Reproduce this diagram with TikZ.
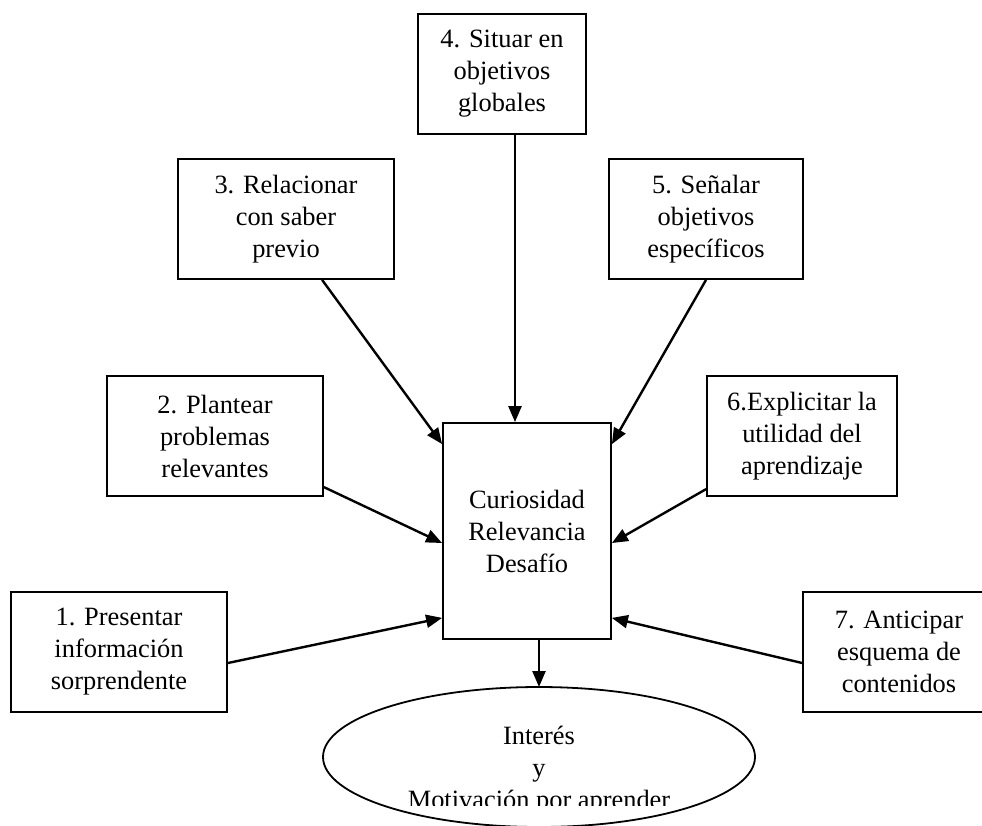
\documentclass[tikz,border=0pt]{standalone}
\usepackage{fontspec}
\setmainfont{Liberation Serif}
\usetikzlibrary{arrows.meta,calc}
\begin{document}
\begin{tikzpicture}[x=1pt,y=-1pt,
  txt/.style={font=\fontsize{26.4}{32}\selectfont, align=center},
  stepbox/.style={txt, draw, line width=1.8pt, inner sep=0pt},
  link/.style={line width=2.4pt, -{Triangle[length=16pt,width=13pt]}}]
  \clip (0,0) rectangle (982,825);
  \fill[white] (0,0) rectangle (982,825);

  % strategy boxes
  \node[stepbox, minimum width=168, minimum height=120] (b4) at (502,74) {4. Situar en\\objetivos\\globales};
  \node[stepbox, minimum width=216, minimum height=120] (b3) at (286,219) {3. Relacionar\\con saber\\previo};
  \node[stepbox, minimum width=194, minimum height=120] (b5) at (706,219) {5. Señalar\\objetivos\\específicos};
  \node[stepbox, minimum width=216, minimum height=120] (b2) at (215,436) {2. Plantear\\problemas\\relevantes};
  \node[stepbox, minimum width=190, minimum height=120] (b6) at (802,436) {6.Explicitar la\\utilidad del\\aprendizaje};
  \node[stepbox, minimum width=216, minimum height=120] (b1) at (119,652) {1. Presentar\\información\\sorprendente};
  \node[stepbox, minimum width=192, minimum height=120] (b7) at (899,652) {7. Anticipar\\esquema de\\contenidos};

  % central box
  \node[stepbox, minimum width=168, minimum height=216] (c) at (527,531) {Curiosidad\\Relevancia\\Desafío};

  % outcome ellipse
  \draw[line width=1.8pt] (539,757) ellipse [x radius=216, y radius=70];
  \coordinate (goal) at (539,687);
  \begin{scope}
    \clip (330,700) rectangle (750,805);
    \node[txt] (goaltext) at (539,770) {Interés\\y\\Motivación por aprender};
  \end{scope}

  % connectors
  \draw[link] (b4.south -| 515,0) -- (c.north -| 515,0);
  \draw[link] ($(b3.south west)+(145,0)$) -- ($(c.north west)+(0,22)$);
  \draw[link] (b5.south) -- ($(c.north east)+(0,22)$);
  \draw[link] ($(b2.north east)+(0,112)$) -- ($(c.west)+(0,12)$);
  \draw[link] ($(b6.north west)+(0,114)$) -- ($(c.east)+(0,12)$);
  \draw[link] ($(b1.east)+(0,11)$) -- ($(c.south west)+(0,-22)$);
  \draw[link] ($(b7.west)+(0,11)$) -- ($(c.south east)+(0,-22)$);
  \draw[link] (c.south -| goal) -- (goal);
\end{tikzpicture}
\end{document}
